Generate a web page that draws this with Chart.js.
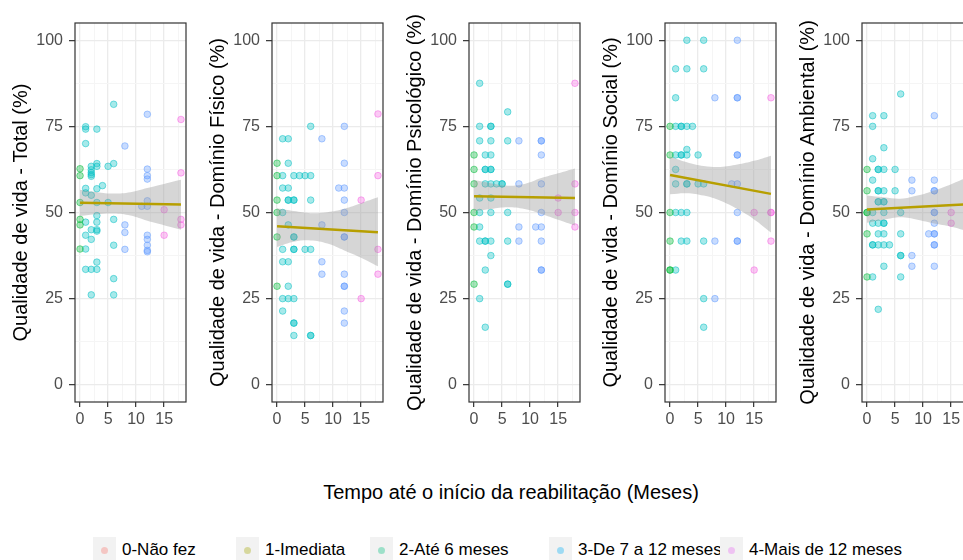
<!DOCTYPE html>
<html>
<head>
<meta charset="utf-8">
<script src="https://cdn.jsdelivr.net/npm/chart.js@4.4.1/dist/chart.umd.min.js"></script>
<style>
  body { margin: 0; background: #fff; width: 963px; height: 560px; overflow: hidden; position: relative;
         font-family: "Liberation Sans", Arial, sans-serif; }
  canvas.panel { position: absolute; top: 0; }
  #xtitle { position: absolute; left: 311px; width: 400px; top: 480px; line-height: 24px;
            text-align: center; font-size: 20px; color: #000; white-space: nowrap; }
  .key { position: absolute; top: 537px; width: 23px; height: 27px; background: #F2F2F2; }
  .key span { position: absolute; left: 8px; top: 10px; width: 7px; height: 7px; border-radius: 50%; }
  .lab { position: absolute; top: 540px; line-height: 20px; font-size: 17px; color: #000; white-space: nowrap; }
</style>
</head>
<body>
<canvas class="panel" id="c0" width="197" height="440" style="left:0px"></canvas>
<canvas class="panel" id="c1" width="197" height="440" style="left:197px"></canvas>
<canvas class="panel" id="c2" width="197" height="440" style="left:394px"></canvas>
<canvas class="panel" id="c3" width="197" height="440" style="left:590px"></canvas>
<canvas class="panel" id="c4" width="197" height="440" style="left:787px"></canvas>
<div id="xtitle">Tempo até o início da reabilitação (Meses)</div>
<div id="legend"></div>
<script>
// eixos
const xTickValues = [0, 2.5, 5, 7.5, 10, 12.5, 15, 17.5]
const yTickValues = [0, 12.5, 25, 37.5, 50, 62.5, 75, 87.5, 100]

// legenda
const legendLabels = ['0-Não fez', '1-Imediata', '2-Até 6 meses', '3-De 7 a 12 meses', '4-Mais de 12 meses']
const legendColors = ['#F8766D', '#A3A500', '#00BF7D', '#00B0F6', '#E76BF3']
const legendTextX = [122, 265, 399, 578, 749]

// cores dos pontos: 0 meses, 1-6, 7-12, >12
const pointColors = ['#00BA38', '#00BFC4', '#619CFF', '#F564E3']
const lineColor = '#B79F00'

// regressão (lm) e intervalo
const lineX = [0, 18]
const bandX = [0, 3, 6, 9, 12, 15, 18]

// Total
const totalMonths = [6, 12, 18, 1, 1, 3, 1, 8, 0, 0, 2, 2, 2, 2, 2, 3, 3, 5, 6, 12, 12, 12, 18, 1, 1, 3, 4, 2,
  0, 0, 0, 3, 5, 12, 12, 11, 15, 1, 2, 3, 3, 3, 3, 6, 8, 8, 1, 2, 12, 12, 12, 12, 12, 15, 18, 18,
  0, 1, 6, 8, 3, 1, 2, 3, 6, 2, 6]
const totalScores = [81.4, 78.5, 77.0, 74.9, 74.2, 74.2, 70.0, 69.3, 62.7, 60.7, 63.4, 62.4, 61.6, 61.0, 60.5, 64.2, 63.4, 63.4, 64.2,
  62.6, 60.7, 59.7, 61.5, 57.0, 55.7, 56.9, 57.8, 55.0, 52.9, 48.0, 46.4, 52.9, 52.9, 53.4, 51.8, 51.8, 50.8,
  47.2, 45.0, 49.1, 47.2, 45.0, 44.6, 48.0, 46.4, 44.2, 43.4, 42.2, 43.4, 42.2, 40.5, 39.0, 38.6, 43.4, 48.0, 46.4,
  39.4, 39.4, 40.5, 39.3, 35.6, 33.5, 33.5, 33.5, 30.8, 26.1, 26.1]
const totalLine = [52.8, 52.3]
const totalUpper = [56.6, 55.9, 55.5, 55.9, 57.1, 58.3, 59.5]
const totalLower = [49.0, 49.5, 49.7, 49.1, 47.6, 46.3, 45.0]

// Domínio Físico
const physMonths = [18, 6, 12, 1, 2, 8, 0, 2, 12, 0, 1, 3, 4, 5, 6, 18, 1, 2, 11, 12, 0, 2, 2, 3, 3, 6, 12, 15,
  0, 1, 12, 2, 8, 0, 3, 3, 12, 12, 1, 3, 3, 5, 6, 18, 1, 2, 8, 8, 12, 18, 0, 2, 12, 12, 1, 2, 3, 15,
  1, 12, 3, 3, 12, 3, 6, 6]
const physScores = [78.6, 75.0, 75.0, 71.4, 71.4, 71.4, 64.3, 64.3, 64.3,
  60.7, 60.7, 60.7, 60.7, 60.7, 60.7, 60.7, 57.1, 57.1, 57.1, 57.1,
  53.6, 53.6, 53.6, 53.6, 53.6, 53.6, 53.6, 53.6, 50.0, 50.0, 50.0, 46.4, 46.4,
  42.9, 42.9, 42.9, 42.9, 42.9, 39.3, 39.3, 39.3, 39.3, 39.3, 39.3, 35.7, 35.7, 35.7,
  32.1, 32.1, 32.1, 28.6, 28.6, 28.6, 28.6, 25.0, 25.0, 25.0, 25.0,
  21.4, 21.4, 17.9, 17.9, 17.9, 14.3, 14.3, 14.3]
const physLine = [46.0, 44.3]
const physUpper = [51.2, 50.4, 49.8, 50.1, 51.1, 52.7, 54.4]
const physLower = [40.0, 41.5, 41.9, 41.0, 39.0, 36.9, 34.4]

// Domínio Psicológico
const psychMonths = [1, 18, 6, 1, 3, 3, 1, 3, 6, 8, 12, 12, 0, 2, 3, 12, 0, 2, 2, 3, 3,
  0, 2, 3, 4, 5, 5, 8, 12, 18, 1, 3, 15, 0, 1, 3, 6, 12, 15, 18, 0, 1, 8, 11, 12, 18,
  1, 2, 2, 3, 6, 8, 12, 3, 2, 12, 12, 0, 6, 6, 1, 2]
const psychScores = [87.5, 87.5, 79.2, 75.0, 75.0, 75.0, 70.8, 70.8, 70.8, 70.8, 70.8, 70.8,
  66.7, 66.7, 66.7, 66.7, 62.5, 62.5, 62.5, 62.5, 62.5,
  58.3, 58.3, 58.3, 58.3, 58.3, 58.3, 58.3, 58.3, 58.3, 54.2, 54.2, 54.2,
  50.0, 50.0, 50.0, 50.0, 50.0, 50.0, 50.0, 45.8, 45.8, 45.8, 45.8, 45.8, 45.8,
  41.7, 41.7, 41.7, 41.7, 41.7, 41.7, 41.7, 37.5, 33.3, 33.3, 33.3, 29.2, 29.2, 29.2, 25.0, 16.7]
const psychLine = [54.7, 54.2]
const psychUpper = [59.4, 58.5, 57.8, 58.3, 60.0, 61.4, 62.8]
const psychLower = [50.3, 51.0, 51.5, 51.0, 49.6, 47.9, 46.2]

// Domínio Social
const socialMonths = [3, 6, 12, 1, 3, 6, 1, 8, 12, 12, 18, 0, 1, 2, 2, 3, 4,
  0, 1, 2, 2, 3, 3, 5, 12, 12, 1, 1, 3, 3, 5, 6, 11, 12,
  0, 1, 2, 3, 12, 15, 18, 18, 0, 2, 3, 6, 8, 12, 12, 18, 0, 0, 1, 15, 6, 8, 6]
const socialScores = [100, 100, 100, 91.7, 91.7, 91.7, 83.3, 83.3, 83.3, 83.3, 83.3,
  75.0, 75.0, 75.0, 75.0, 75.0, 75.0,
  66.7, 66.7, 66.7, 66.7, 66.7, 68.3, 66.7, 66.7, 66.7, 62.5,
  58.3, 58.3, 58.3, 58.3, 58.3, 58.3, 58.3,
  50.0, 50.0, 50.0, 50.0, 50.0, 50.0, 50.0, 50.0,
  41.7, 41.7, 41.7, 41.7, 41.7, 41.7, 41.7, 41.7,
  33.3, 33.3, 33.3, 33.3, 25.0, 25.0, 16.7]
const socialLine = [60.9, 55.4]
const socialUpper = [66.2, 64.6, 63.5, 63.2, 63.9, 65.0, 66.5]
const socialLower = [55.3, 55.6, 54.9, 53.4, 51.0, 48.0, 44.2]

// Domínio Ambiental
const envMonths = [6, 1, 3, 12, 1, 3, 1, 0, 2, 2, 3, 5, 1, 8, 12, 0, 2, 2, 3, 5, 8, 12, 12,
  2, 2, 3, 3, 0, 0, 1, 3, 6, 12, 12, 15, 1, 2, 3, 3, 12, 15, 0, 2, 3, 6, 11, 12, 12,
  1, 1, 2, 3, 4, 12, 12, 6, 6, 8, 3, 8, 12, 0, 1, 6, 2]
const envScores = [84.4, 78.1, 78.1, 78.1, 75.0, 68.8, 65.6,
  62.5, 62.5, 62.5, 62.5, 62.5, 59.4, 59.4, 59.4,
  56.3, 56.3, 56.3, 56.3, 56.3, 56.3, 56.3, 56.3, 53.1, 53.1, 53.1, 53.1,
  50.0, 50.0, 50.0, 50.0, 50.0, 50.0, 50.0, 50.0, 46.9, 46.9, 46.9, 46.9, 46.9, 46.9,
  43.8, 43.8, 43.8, 43.8, 43.8, 43.8, 43.8, 40.6, 40.6, 40.6, 40.6, 40.6, 40.6, 40.6,
  37.5, 37.5, 37.5, 34.4, 34.4, 34.4, 31.3, 31.3, 31.3, 21.9]
const envLine = [50.9, 52.4]
const envUpper = [54.9, 54.4, 54.0, 54.9, 56.4, 58.2, 60.3]
const envLower = [47.0, 47.9, 48.6, 47.9, 46.8, 45.9, 44.6]

const panels = [
  { title: 'Qualidade de vida - Total (%)', xs: totalMonths, ys: totalScores, line: totalLine, upper: totalUpper, lower: totalLower },
  { title: 'Qualidade de vida - Domínio Físico (%)', xs: physMonths, ys: physScores, line: physLine, upper: physUpper, lower: physLower },
  { title: 'Qualidade de vida - Domínio Psicológico (%)', xs: psychMonths, ys: psychScores, line: psychLine, upper: psychUpper, lower: psychLower },
  { title: 'Qualidade de vida - Domínio Social (%)', xs: socialMonths, ys: socialScores, line: socialLine, upper: socialUpper, lower: socialLower },
  { title: 'Qualidade de vida - Domínio Ambiental (%)', xs: envMonths, ys: envScores, line: envLine, upper: envUpper, lower: envLower }
]

function hexToRgba(hex, a) {
  const n = parseInt(hex.slice(1), 16)
  return `rgba(${n >> 16}, ${(n >> 8) & 255}, ${n & 255}, ${a})`
}

function groupOf(month) {
  if (month === 0) return 0
  if (month <= 6) return 1
  if (month <= 12) return 2
  return 3
}

Chart.defaults.font.family = '"Liberation Sans", Arial, sans-serif'
Chart.defaults.animation = false

// moldura do painel (theme_bw)
const panelBorder = {
  id: 'panelBorder',
  afterDatasetsDraw(chart) {
    const { ctx, chartArea: a } = chart
    ctx.save()
    ctx.strokeStyle = '#333333'
    ctx.lineWidth = 1.2
    ctx.strokeRect(a.left, a.top, a.right - a.left, a.bottom - a.top)
    ctx.restore()
  }
}

function buildDatasets(p) {
  const groups = [[], [], [], []]
  p.xs.forEach((x, i) => groups[groupOf(x)].push({ x, y: p.ys[i] }))

  const sets = [
    {
      type: 'line', data: lineX.map((x, i) => ({ x, y: p.line[i] })),
      borderColor: lineColor, borderWidth: 2.5, pointRadius: 0, fill: false, order: 0
    },
    {
      type: 'line', data: bandX.map((x, i) => ({ x, y: p.upper[i] })),
      borderColor: 'transparent', pointRadius: 0, tension: 0.4,
      fill: '+1', backgroundColor: 'rgba(153, 153, 153, 0.4)', order: 1
    },
    {
      type: 'line', data: bandX.map((x, i) => ({ x, y: p.lower[i] })),
      borderColor: 'transparent', pointRadius: 0, tension: 0.4, fill: false, order: 1
    }
  ]
  groups.forEach((g, k) => {
    sets.push({
      type: 'scatter', data: g,
      backgroundColor: hexToRgba(pointColors[k], 0.35),
      borderColor: hexToRgba(pointColors[k], 0.5),
      borderWidth: 1, pointRadius: 3.3, order: 2
    })
  })
  return sets
}

panels.forEach((p, idx) => {
  new Chart(document.getElementById('c' + idx), {
    type: 'scatter',
    data: { datasets: buildDatasets(p) },
    plugins: [panelBorder],
    options: {
      responsive: false,
      layout: { padding: { top: 23, right: 11, left: 0, bottom: 0 } },
      plugins: { legend: { display: false }, tooltip: { enabled: false } },
      scales: {
        x: {
          type: 'linear', min: -0.9, max: 18.9,
          afterBuildTicks: axis => { axis.ticks = xTickValues.map(v => ({ value: v })) },
          afterFit: axis => { axis.height = 38 },
          ticks: {
            color: '#4D4D4D', font: { size: 16 }, padding: 3, maxRotation: 0, autoSkip: false,
            callback: v => (v % 5 === 0 ? v : '')
          },
          grid: {
            color: ctx => (ctx.tick && ctx.tick.value % 5 === 0 ? '#EBEBEB' : '#F5F5F5'),
            lineWidth: ctx => (ctx.tick && ctx.tick.value % 5 === 0 ? 1.3 : 1),
            tickColor: ctx => (ctx.tick && ctx.tick.value % 5 === 0 ? '#333333' : 'transparent'),
            tickLength: 5, tickWidth: 1.2
          },
          border: { display: false }
        },
        y: {
          type: 'linear', min: -5, max: 105,
          afterBuildTicks: axis => { axis.ticks = yTickValues.map(v => ({ value: v })) },
          afterFit: axis => { axis.width = 75 },
          ticks: {
            color: '#4D4D4D', font: { size: 16 }, padding: 6, autoSkip: false,
            callback: v => (v % 25 === 0 ? v : '')
          },
          grid: {
            color: ctx => (ctx.tick && ctx.tick.value % 25 === 0 ? '#EBEBEB' : '#F5F5F5'),
            lineWidth: ctx => (ctx.tick && ctx.tick.value % 25 === 0 ? 1.3 : 1),
            tickColor: ctx => (ctx.tick && ctx.tick.value % 25 === 0 ? '#333333' : 'transparent'),
            tickLength: 6, tickWidth: 1.2
          },
          border: { display: false },
          title: { display: true, text: p.title, color: '#000', font: { size: 20 }, padding: { top: 9, bottom: 0 } }
        }
      }
    }
  })
})

// legenda (chaves com fundo cinza, como no ggplot)
const legend = document.getElementById('legend')
legendLabels.forEach((label, i) => {
  const key = document.createElement('div')
  key.className = 'key'
  key.style.left = (legendTextX[i] - 29) + 'px'
  const dot = document.createElement('span')
  dot.style.background = hexToRgba(legendColors[i], 0.35)
  key.appendChild(dot)
  legend.appendChild(key)

  const lab = document.createElement('div')
  lab.className = 'lab'
  lab.style.left = legendTextX[i] + 'px'
  lab.textContent = label
  legend.appendChild(lab)
})
</script>
</body>
</html>
